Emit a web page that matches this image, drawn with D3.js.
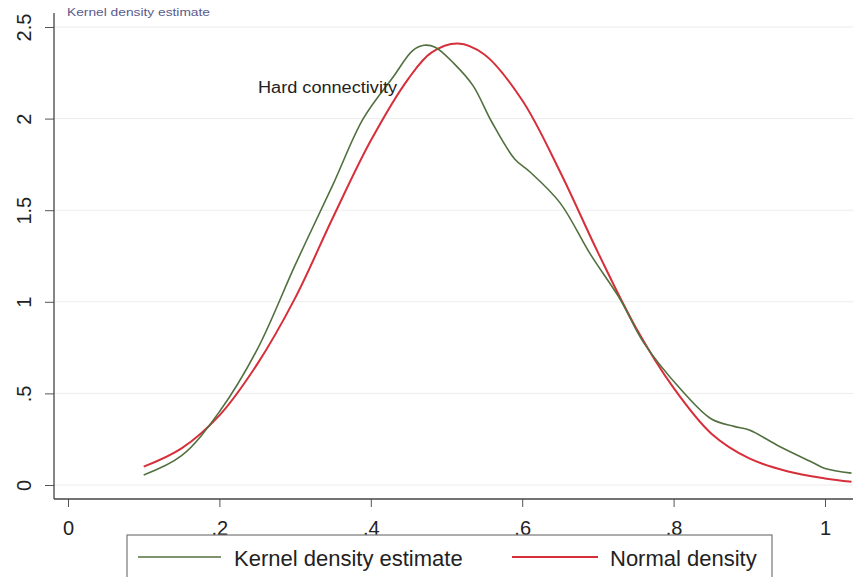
<!DOCTYPE html>
<html>
<head>
<meta charset="utf-8">
<script src="https://cdn.jsdelivr.net/npm/d3@7"></script>
<style>
  body { margin: 0; background: #fff; }
  svg { display: block; font-family: "Liberation Sans", Arial, sans-serif; }
</style>
</head>
<body>
<div id="chart"></div>
<script>
// Values.
const xTicks = [0, 0.2, 0.4, 0.6, 0.8, 1];
const xTickLabels = ["0", ".2", ".4", ".6", ".8", "1"];
const yTicks = [0, 0.5, 1, 1.5, 2, 2.5];
const yTickLabels = ["0", ".5", "1", "1.5", "2", "2.5"];

const kernelX = [0.10, 0.15, 0.20, 0.25, 0.30, 0.35, 0.39, 0.43, 0.455, 0.47, 0.485, 0.51, 0.535, 0.56, 0.59, 0.61, 0.65, 0.69, 0.73, 0.76, 0.81, 0.85, 0.88, 0.90, 0.94, 0.985, 1.00, 1.035];
const kernelY = [0.055, 0.16, 0.40, 0.74, 1.20, 1.64, 2.00, 2.23, 2.37, 2.40, 2.39, 2.30, 2.18, 1.98, 1.78, 1.71, 1.54, 1.26, 1.01, 0.78, 0.52, 0.36, 0.32, 0.30, 0.21, 0.12, 0.09, 0.065];

const normalX = [0.10, 0.15, 0.20, 0.25, 0.30, 0.35, 0.40, 0.45, 0.48, 0.515, 0.55, 0.60, 0.65, 0.70, 0.75, 0.80, 0.85, 0.90, 0.95, 1.00, 1.035];
const normalY = [0.10, 0.20, 0.38, 0.66, 1.02, 1.46, 1.88, 2.22, 2.36, 2.41, 2.35, 2.10, 1.71, 1.27, 0.86, 0.53, 0.28, 0.145, 0.075, 0.036, 0.018];

const title = "Kernel density estimate";
const note = "Hard connectivity";
const legendLabels = ["Kernel density estimate", "Normal density"];
const colors = ["#52703f", "#d62f3a"];

const W = 853, H = 577;

const svg = d3.select("#chart").append("svg")
  .attr("width", W)
  .attr("height", H);

const x = d3.scaleLinear().domain([0, 1]).range([68, 825]);
const y = d3.scaleLinear().domain([0, 2.5]).range([485, 27]);

const axisLeft = 54, axisBottom = 499;

// gridlines
svg.append("g")
  .selectAll("line")
  .data(yTicks)
  .join("line")
  .attr("x1", axisLeft)
  .attr("x2", W)
  .attr("y1", d => y(d))
  .attr("y2", d => y(d))
  .attr("stroke", "#ebedea")
  .attr("stroke-width", 1);

// y axis
const yAxis = svg.append("g")
  .attr("transform", `translate(${axisLeft},0)`)
  .call(d3.axisLeft(y).tickValues(yTicks).tickFormat((d, i) => yTickLabels[i]).tickSize(9).tickSizeOuter(0));
yAxis.select(".domain").remove();
yAxis.selectAll(".tick line").attr("stroke", "#555");
yAxis.selectAll(".tick text")
  .attr("font-size", 20)
  .attr("fill", "#222")
  .attr("font-family", "Liberation Sans, Arial, sans-serif")
  .attr("text-anchor", "middle")
  .attr("x", null)
  .attr("dy", null)
  .attr("transform", "translate(-23,0) rotate(-90)");

svg.append("line")
  .attr("x1", axisLeft).attr("x2", axisLeft)
  .attr("y1", 13).attr("y2", axisBottom)
  .attr("stroke", "#444").attr("stroke-width", 1.3);

// x axis
const xAxis = svg.append("g")
  .attr("transform", `translate(0,${axisBottom})`)
  .call(d3.axisBottom(x).tickValues(xTicks).tickFormat((d, i) => xTickLabels[i]).tickSize(8).tickSizeOuter(0));
xAxis.select(".domain").remove();
xAxis.selectAll(".tick line").attr("stroke", "#555");
xAxis.selectAll(".tick text")
  .attr("font-size", 20)
  .attr("fill", "#222")
  .attr("font-family", "Liberation Sans, Arial, sans-serif")
  .attr("y", 36)
  .attr("dy", null);

svg.append("line")
  .attr("x1", axisLeft).attr("x2", W)
  .attr("y1", axisBottom).attr("y2", axisBottom)
  .attr("stroke", "#444").attr("stroke-width", 1.3);

// curves
const line = d3.line()
  .x(d => x(d[0]))
  .y(d => y(d[1]))
  .curve(d3.curveCatmullRom.alpha(0.5));

svg.append("path")
  .datum(normalX.map((v, i) => [v, normalY[i]]))
  .attr("d", line)
  .attr("fill", "none")
  .attr("stroke", colors[1])
  .attr("stroke-width", 2);

svg.append("path")
  .datum(kernelX.map((v, i) => [v, kernelY[i]]))
  .attr("d", line)
  .attr("fill", "none")
  .attr("stroke", colors[0])
  .attr("stroke-width", 1.6);

// texts
svg.append("text")
  .attr("x", 67).attr("y", 16)
  .attr("font-size", 10)
  .attr("fill", "#5a5a8c")
  .attr("textLength", 143)
  .attr("lengthAdjust", "spacingAndGlyphs")
  .text(title);

svg.append("text")
  .attr("x", 258).attr("y", 93)
  .attr("font-size", 16)
  .attr("fill", "#222")
  .attr("textLength", 139)
  .attr("lengthAdjust", "spacingAndGlyphs")
  .text(note);

// legend
const legend = svg.append("g");
legend.append("rect")
  .attr("x", 127).attr("y", 535)
  .attr("width", 645).attr("height", 60)
  .attr("fill", "#fff")
  .attr("stroke", "#777")
  .attr("stroke-width", 1.2);

const legendItems = [
  {x1: 138, x2: 221, tx: 234},
  {x1: 512, x2: 598, tx: 610}
];
legendItems.forEach((it, i) => {
  legend.append("line")
    .attr("x1", it.x1).attr("x2", it.x2)
    .attr("y1", 557).attr("y2", 557)
    .attr("stroke", colors[i])
    .attr("stroke-width", i === 1 ? 2 : 1.6);
  legend.append("text")
    .attr("x", it.tx).attr("y", 566)
    .attr("font-size", 22)
    .attr("fill", "#222")
    .text(legendLabels[i]);
});
</script>
</body>
</html>
